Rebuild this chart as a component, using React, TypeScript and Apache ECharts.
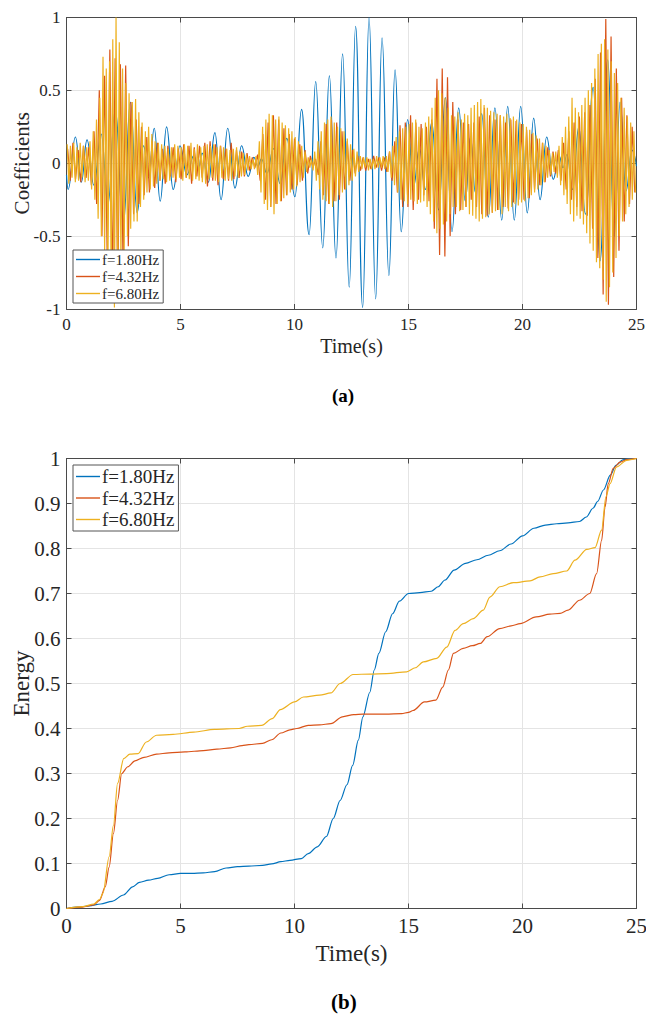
import React, { useEffect, useRef } from 'react';
import * as echarts from 'echarts';

const NAMES = ['f=1.80Hz', 'f=4.32Hz', 'f=6.80Hz'];
const COLORS = ['#0072BD', '#D95319', '#EDB120'];

// ---------- Panel (a): wavelet coefficients ----------
// 1.80 Hz: extrema (time s, value)
const blueT = [0, 0.07, 0.39, 0.65, 0.9, 1.2, 1.52, 1.82, 2.13, 2.5, 2.8, 3.1, 3.38, 3.6, 3.85, 4.11, 4.39, 4.68, 4.98, 5.28, 5.58, 5.78, 5.95, 6.22, 6.51, 6.78, 7.07, 7.39, 7.68, 7.97, 8.22, 8.4, 8.55, 8.79, 9.08, 9.37, 9.66, 10.02, 10.31, 10.64, 10.93, 11.24, 11.53, 11.82, 12.11, 12.4, 12.68, 12.99, 13.27, 13.56, 13.84, 14.14, 14.41, 14.68, 14.96, 15.22, 15.48, 15.74, 16.02, 16.32, 16.62, 16.91, 17.2, 17.49, 17.72, 17.93, 18.21, 18.5, 18.79, 19.09, 19.35, 19.64, 19.92, 20.21, 20.49, 20.77, 21.06, 21.35, 21.6, 21.78, 21.95, 22.2, 22.47, 22.76, 23.1, 23.4, 23.74, 24.02, 24.28, 24.54, 24.8, 25];
const blueV = [-0.08, -0.18, 0.18, -0.13, 0.16, -0.15, 0.2, -0.28, 0.36, -0.41, 0.42, -0.34, 0.12, -0.1, 0.24, -0.26, 0.25, -0.18, 0.12, -0.08, 0.05, -0.04, 0.07, -0.13, 0.21, -0.25, 0.24, -0.17, 0.12, -0.09, 0.04, -0.02, 0.03, -0.07, 0.1, -0.14, 0.17, -0.23, 0.37, -0.49, 0.56, -0.58, 0.6, -0.65, 0.75, -0.85, 0.94, -0.99, 1.0, -0.93, 0.86, -0.77, 0.64, -0.47, 0.3, -0.16, 0.1, -0.18, 0.28, -0.32, 0.45, -0.47, 0.38, -0.26, 0.18, -0.2, 0.34, -0.37, 0.38, -0.39, 0.39, -0.39, 0.39, -0.34, 0.31, -0.25, 0.18, -0.11, 0.05, -0.03, 0.06, -0.18, 0.25, -0.35, 0.52, -0.67, 0.71, -0.5, 0.42, -0.19, 0.09, -0.02];

// 4.32 Hz: successive extrema (x0.01), sampled every half period
const ORANGE_T0 = 0.05;
const ORANGE_STEP = 0.1157;
const orangeV = [
  10, -12, 14, -11, 9, -13, 12, -10, 11,
  -15, 22, -28, 50, -50, 60, -65, 78, -85,
  72, -90, 68, -70, 67, -57, 42, -35,
  30, -28, 25, -22, 18, -20, 15, -17, 14,
  -12, 10, -14, 12, -9, 11, -13, 10,
  -11, 13, -10, 12, -14, 11, -9, 12, -10,
  14, -16, 15, -12, 13, -15, 12, -11,
  10, -12, 14, -11, 9, -10, 8, -9, 7,
  -5, 4, -3, 6, -12, 20, -25, 28, -30,
  33, -28, 30, -26, 24, -22, 20, -18,
  17, -15, 13, -12, 9, -7, 5, -3, 3,
  -8, 15, -22, 27, -28, 30, -26, 28,
  -25, 22, -18, 15, -12, 9, -7, 5, -5,
  4, -5, 3, -4, 5, -3, 4, -5, 4,
  -6, 8, -12, 15, -20, 26, -30, 28,
  -30, 33, -32, 28, -25, 27, -22, 25, -26,
  30, -45, 58, -63, 65, -64, 59, -50, 42,
  -35, 30, -32, 28, -30, 27, -25, 28,
  -30, 32, -35, 38, -36, 33, -34, 30, -32,
  33, -30, 28, -31, 30, -27, 29, -25, 27,
  -25, 23, -24, 20, -18, 17, -15, 14,
  -13, 11, -9, 8, -7, 9, -12, 14, -18,
  22, -25, 28, -30, 32, -33, 35, -36,
  40, -45, 58, -65, 76, -90, 99, -97, 87,
  -78, 65, -60, 45, -40, 33, -28, 25, -20,
];

// 6.80 Hz: successive extrema (x0.01), 14 per second
const YELLOW_T0 = 0.03;
const YELLOW_STEP = 1 / 14;
const yellowV = [
  13, -14, 12, -10, 14, -13, 11, -12, 14, -10, 12, -13, 11, -12,
  15, -18, 22, -25, 30, -38, 45, -50, 73, -60, 65, -75, 70, -80,
  85, -99, 100, -85, 83, -70, 65, -60, 55, -50, 48, -45, 42, -40,
  44, -40, 35, -30, 28, -25, 22, -20, 25, -18, 20, -16, 15, -14,
  14, -12, 13, -11, 12, -13, 10, -12, 11, -10, 13, -11, 12, -10,
  11, -12, 13, -10, 12, -11, 14, -12, 10, -11, 13, -12, 11, -13,
  12, -14, 13, -11, 12, -10, 13, -12, 11, -13, 12, -10, 11, -12,
  10, -11, 9, -12, 10, -9, 11, -10, 8, -9, 7, -8, 6, -5,
  5, -4, 3, -4, 5, -8, 15, -20, 25, -28, 30, -32, 34, -30,
  33, -35, 30, -28, 32, -26, 28, -24, 26, -22, 24, -20, 22, -18,
  18, -16, 15, -13, 12, -10, 8, -6, 4, -3, 3, -5, 8, -12,
  15, -18, 22, -25, 28, -26, 30, -28, 32, -30, 28, -26, 25, -22,
  24, -20, 22, -18, 17, -15, 13, -12, 10, -9, 8, -6, 5, -4,
  4, -3, 4, -5, 3, -4, 3, -4, 5, -3, 4, -3, 5, -4,
  5, -6, 8, -10, 12, -15, 18, -20, 22, -25, 24, -26, 25, -28,
  27, -25, 28, -26, 30, -28, 25, -27, 24, -26, 28, -30, 32, -35,
  38, -40, 45, -48, 50, -45, 48, -42, 45, -40, 38, -35, 33, -30,
  32, -30, 35, -33, 30, -32, 34, -30, 33, -35, 38, -36, 40, -38,
  42, -40, 44, -38, 40, -37, 38, -35, 36, -34, 35, -33, 34, -32,
  33, -35, 32, -30, 34, -33, 31, -30, 32, -28, 30, -29, 28, -27,
  27, -26, 25, -24, 23, -22, 21, -20, 19, -18, 17, -15, 14, -13,
  12, -10, 9, -8, 7, -6, 8, -10, 12, -15, 18, -22, 25, -28,
  32, -35, 45, -40, 38, -36, 35, -38, 40, -42, 45, -48, 50, -55,
  55, -60, 65, -68, 75, -72, 82, -80, 85, -95, 78, -85, 70, -75,
  62, -65, 55, -50, 45, -40, 38, -35, 32, -30, 28, -25, 22, -20,
];

// ---------- Panel (b): cumulative energy ----------
const eBlueT = [0, 0.5, 1, 1.5, 2, 2.5, 2.9, 3.2, 3.6, 4, 4.5, 5, 5.5, 6, 6.5, 7, 7.5, 8, 8.6, 9, 9.4, 9.8, 10.3, 10.6, 11, 11.4, 11.7, 12, 12.3, 12.55, 12.8, 13, 13.3, 13.5, 13.7, 14, 14.3, 14.6, 15, 15.5, 16, 16.3, 16.6, 17, 17.5, 18, 18.5, 19, 19.5, 20, 20.5, 21, 21.5, 22, 22.5, 22.8, 23.1, 23.3, 23.55, 23.85, 24.1, 24.4, 24.7, 25];
const eBlueV = [0, 0.003, 0.006, 0.01, 0.016, 0.03, 0.048, 0.058, 0.063, 0.067, 0.075, 0.078, 0.078, 0.079, 0.082, 0.09, 0.093, 0.094, 0.096, 0.099, 0.104, 0.107, 0.111, 0.122, 0.137, 0.16, 0.2, 0.24, 0.275, 0.318, 0.374, 0.426, 0.48, 0.53, 0.567, 0.615, 0.655, 0.683, 0.7, 0.702, 0.705, 0.715, 0.73, 0.752, 0.767, 0.775, 0.785, 0.795, 0.81, 0.828, 0.845, 0.852, 0.855, 0.857, 0.86, 0.87, 0.89, 0.905, 0.93, 0.963, 0.985, 0.997, 1.0, 1.0];
const eOrangeT = [0, 0.7, 1.2, 1.45, 1.7, 1.87, 2.06, 2.24, 2.42, 2.69, 3.0, 3.4, 3.95, 4.5, 5.2, 6, 6.6, 7.2, 7.7, 8, 8.6, 9, 9.4, 9.8, 10.1, 10.6, 11.1, 11.6, 12.1, 12.6, 13, 14, 14.7, 15.0, 15.2, 15.7, 16.2, 16.5, 16.75, 16.97, 17.4, 17.8, 18.15, 18.45, 19.0, 19.5, 19.9, 20.6, 21.2, 21.65, 22.0, 22.5, 22.95, 23.25, 23.47, 23.62, 23.76, 23.98, 24.28, 24.6, 25];
const eOrangeV = [0, 0.003, 0.008, 0.018, 0.048, 0.092, 0.167, 0.24, 0.3, 0.315, 0.328, 0.336, 0.343, 0.346, 0.348, 0.351, 0.354, 0.357, 0.362, 0.364, 0.367, 0.375, 0.39, 0.397, 0.4, 0.407, 0.408, 0.411, 0.426, 0.431, 0.432, 0.432, 0.433, 0.436, 0.44, 0.459, 0.463, 0.492, 0.53, 0.567, 0.578, 0.584, 0.589, 0.604, 0.622, 0.628, 0.633, 0.648, 0.654, 0.656, 0.663, 0.685, 0.7, 0.744, 0.818, 0.892, 0.944, 0.978, 0.992, 0.998, 1.0];
const eYellowT = [0, 0.7, 1.2, 1.45, 1.6, 1.87, 2.06, 2.24, 2.51, 2.78, 3.14, 3.5, 3.95, 4.68, 5.58, 6.49, 7.57, 7.93, 8.56, 9.02, 9.38, 10.0, 10.39, 11.1, 11.6, 12.0, 12.57, 13.3, 14.04, 14.92, 15.3, 15.65, 16.24, 16.68, 17.04, 17.4, 17.84, 18.28, 18.57, 19.01, 19.6, 20.33, 20.77, 21.35, 21.94, 22.3, 22.82, 23.18, 23.47, 23.66, 23.84, 24.12, 24.57, 25];
const eYellowV = [0, 0.004, 0.01, 0.02, 0.034, 0.115, 0.185, 0.278, 0.333, 0.343, 0.344, 0.37, 0.385, 0.387, 0.392, 0.398, 0.4, 0.405, 0.407, 0.422, 0.442, 0.459, 0.47, 0.474, 0.479, 0.5, 0.52, 0.521, 0.522, 0.526, 0.535, 0.548, 0.556, 0.581, 0.618, 0.633, 0.644, 0.663, 0.692, 0.715, 0.724, 0.728, 0.737, 0.744, 0.75, 0.774, 0.798, 0.802, 0.841, 0.915, 0.944, 0.981, 0.996, 1.0];

const FONT = 'Liberation Serif';
const AX = '#262626';
const BOX = '#4a4a4a';
const GRIDC = '#e4e4e4';

function pairs(t: number[], v: number[]) {
  return t.map((x, i) => [x, v[i]]);
}
function sampled(t0: number, step: number, v: number[]) {
  return v.map((y, i) => [t0 + i * step, y / 100]);
}

function xAxes(grid: number, size: number, nameSize: number, nameGap: number) {
  const base = {
    gridIndex: grid, type: 'value', min: 0, max: 25, interval: 5,
    axisLine: { show: true, onZero: false, lineStyle: { color: BOX, width: 1 } },
    axisTick: { show: true, inside: true, length: 5, lineStyle: { color: BOX } },
  };
  return [
    {
      ...base, position: 'bottom',
      axisLabel: { margin: 7, fontSize: size, fontFamily: FONT, color: AX },
      splitLine: { show: true, lineStyle: { color: GRIDC, width: 1 } },
      name: 'Time(s)', nameLocation: 'middle', nameGap, nameMoveOverlap: false,
      nameTextStyle: { fontSize: nameSize, fontFamily: FONT, color: AX },
    },
    { ...base, position: 'top', axisLabel: { show: false }, splitLine: { show: false } },
  ];
}

function yAxes(grid: number, min: number, max: number, interval: number, size: number, name: string, nameSize: number, nameGap: number) {
  const base = {
    gridIndex: grid, type: 'value', min, max, interval,
    axisLine: { show: true, onZero: false, lineStyle: { color: BOX, width: 1 } },
    axisTick: { show: true, inside: true, length: 5, lineStyle: { color: BOX } },
  };
  return [
    {
      ...base, position: 'left',
      axisLabel: {
        margin: 6, fontSize: size, fontFamily: FONT, color: AX,
        formatter: (v: number) => String(Number(v.toFixed(2))),
      },
      splitLine: { show: true, lineStyle: { color: GRIDC, width: 1 } },
      name, nameLocation: 'middle', nameGap, nameMoveOverlap: false,
      nameTextStyle: { fontSize: nameSize, fontFamily: FONT, color: AX },
    },
    { ...base, position: 'right', axisLabel: { show: false }, splitLine: { show: false } },
  ];
}

function lineSeries(name: string, color: string, data: number[][], xi: number, smooth: boolean | number) {
  return {
    type: 'line', name, data, xAxisIndex: xi, yAxisIndex: xi,
    symbol: 'none', showSymbol: false, smooth, smoothMonotone: 'x',
    lineStyle: { color, width: 1.2 }, itemStyle: { color },
    emphasis: { disabled: true }, z: 2,
  };
}

export default function App() {
  const ref = useRef<HTMLDivElement>(null);
  useEffect(() => {
    if (!ref.current) return;
    const chart = echarts.init(ref.current, null, { renderer: 'svg' });
    const legendBase = {
      orient: 'vertical', data: NAMES, backgroundColor: '#fff',
      borderColor: '#555', borderWidth: 1, borderRadius: 0,
      itemWidth: 24, itemHeight: 1.4, icon: 'rect', selectedMode: false,
    };
    chart.setOption({
      animation: false,
      backgroundColor: '#fff',
      textStyle: { fontFamily: FONT },
      title: [
        {
          text: '{p|(}{b|a}{p|)}', left: 327, top: 381,
          textStyle: { rich: { p: { fontSize: 19, fontFamily: FONT, color: '#000' }, b: { fontSize: 19, fontFamily: FONT, fontWeight: 'bold', color: '#000' } } },
        },
        {
          text: '{p|(}{b|b}{p|)}', left: 326, top: 986,
          textStyle: { rich: { p: { fontSize: 21, fontFamily: FONT, color: '#000' }, b: { fontSize: 21, fontFamily: FONT, fontWeight: 'bold', color: '#000' } } },
        },
      ],
      legend: [
        {
          ...legendBase, left: 73, top: 250, itemGap: 2,
          padding: [2, 4, 2, 3],
          textStyle: { fontSize: 15, fontFamily: FONT, color: AX, padding: [0, 0, 0, -3] },
        },
        {
          ...legendBase, left: 73, top: 465, itemGap: 2.5,
          padding: [2, 4, 2, 3],
          textStyle: { fontSize: 19, fontFamily: FONT, color: AX, padding: [0, 0, 0, -3] },
        },
      ],
      grid: [
        { left: 66.5, top: 17.5, width: 570, height: 291.5, outerBoundsMode: 'none', containLabel: false },
        { left: 66.5, top: 458.5, width: 570, height: 450, outerBoundsMode: 'none', containLabel: false },
      ],
      xAxis: [...xAxes(0, 17, 20, 27), ...xAxes(1, 21, 23, 33)],
      yAxis: [
        ...yAxes(0, -1, 1, 0.5, 17, 'Coefficients', 21, 34),
        ...yAxes(1, 0, 1, 0.1, 21, 'Energy', 23, 34),
      ],
      series: [
        lineSeries(NAMES[0], COLORS[0], pairs(blueT, blueV), 0, 0.45),
        lineSeries(NAMES[1], COLORS[1], sampled(ORANGE_T0, ORANGE_STEP, orangeV), 0, false),
        lineSeries(NAMES[2], COLORS[2], sampled(YELLOW_T0, YELLOW_STEP, yellowV), 0, false),
        lineSeries(NAMES[0], COLORS[0], pairs(eBlueT, eBlueV), 2, 0.3),
        lineSeries(NAMES[1], COLORS[1], pairs(eOrangeT, eOrangeV), 2, 0.3),
        lineSeries(NAMES[2], COLORS[2], pairs(eYellowT, eYellowV), 2, 0.3),
      ],
    });
    return () => chart.dispose();
  }, []);
  return (
    <div
      ref={ref}
      style={{ position: 'absolute', left: 0, top: 0, width: 646, height: 1014, background: '#fff' }}
    />
  );
}
